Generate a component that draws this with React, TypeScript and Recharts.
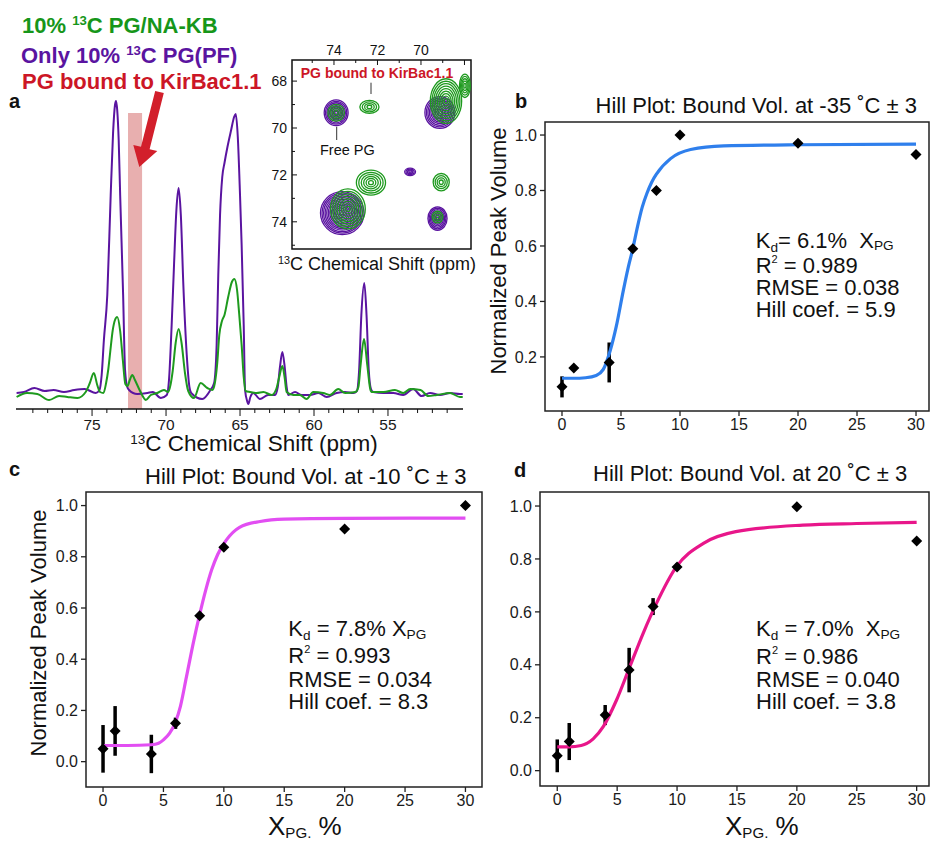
import React from "react";
import { ComposedChart, ScatterChart, Line, Scatter, XAxis, YAxis, ErrorBar, ReferenceArea } from "recharts";

const FONT = "'Liberation Sans', Arial, Helvetica, sans-serif";

// ---------- Panel a: 1D 13C spectra [ppm, intensity] ----------
const purpleSpectrum: [number, number][] = [
  [80.1, 2], [79.6, 3], [78.9, 7], [78.2, 4], [77.6, 5], [76.9, 3], [76.2, 5], [75.5, 6], [74.75, 2], [74.5, 5],
  [74.35, 20], [74.2, 55], [73.97, 100], [73.74, 200], [73.58, 262], [73.45, 290], [73.38, 294], [73.3, 285],
  [73.2, 255], [73.1, 200], [72.9, 100], [72.77, 25], [72.62, 8], [72.5, 5], [71.95, 1], [71.25, 2], [70.9, 3],
  [70.35, -3], [69.95, 0], [69.8, 15], [69.62, 70], [69.46, 130], [69.3, 185], [69.15, 207], [69.0, 180],
  [68.83, 110], [68.6, 40], [68.42, 8], [68.3, 2], [67.55, -4], [67.0, 5], [66.75, 12], [66.58, 50], [66.47, 120],
  [66.35, 180], [66.2, 218], [66.05, 232], [65.85, 248], [65.6, 265], [65.4, 278], [65.29, 281], [65.15, 258],
  [65.0, 200], [64.89, 150], [64.75, 70], [64.66, 5], [64.5, -7], [64.44, -9], [64.3, -2], [64.1, 2], [63.65, -4],
  [63.1, 0], [62.64, 0], [62.45, 8], [62.3, 28], [62.14, 43], [61.98, 28], [61.85, 8], [61.74, 0], [61.28, 3],
  [60.84, 0], [60.27, 0], [59.7, 2], [59.14, -2], [58.47, 2], [57.9, 3], [57.35, 2], [57.1, 4], [56.95, 25],
  [56.8, 80], [56.6, 112], [56.45, 80], [56.3, 25], [56.15, 6], [55.99, 3], [55.3, 2], [54.64, 2], [53.97, 0],
  [53.3, 6], [52.73, -1], [52.16, 2], [51.49, 0], [50.8, 2], [50.14, 1], [49.95, 1],
];
const greenSpectrum: [number, number][] = [
  [80.1, -2], [79.4, 2], [78.7, 1], [77.9, -5], [77.23, -1], [76.67, -2], [75.99, -3], [75.43, 3], [75.15, 12],
  [74.88, 22], [74.65, 10], [74.46, 3], [74.23, 2], [74.05, 12], [73.9, 26], [73.78, 42], [73.6, 65], [73.45, 75],
  [73.3, 78], [73.1, 64], [72.92, 35], [72.75, 11], [72.6, 9], [72.45, 15], [72.28, 20], [72.1, 15], [71.82, 6],
  [71.5, -3], [71.37, -5], [71.03, 0], [70.59, 2], [70.14, 5], [69.86, 3], [69.7, 10], [69.55, 24], [69.35, 52],
  [69.15, 66], [68.95, 52], [68.72, 22], [68.5, 4], [68.11, -3], [67.66, 12], [67.21, 7], [66.87, 5], [66.7, 12],
  [66.55, 30], [66.4, 60], [66.22, 74], [66.05, 80], [65.8, 98], [65.55, 113], [65.38, 116], [65.2, 105],
  [65.05, 80], [64.89, 50], [64.75, 18], [64.62, 4], [64.32, 3], [63.87, 2], [63.42, 3], [62.86, 0], [62.55, 6],
  [62.35, 18], [62.14, 29], [61.98, 17], [61.85, 3], [61.4, 0], [60.95, 0], [60.5, -4], [60.05, 3], [59.38, 2],
  [58.92, 0], [58.36, 6], [57.9, 2], [57.2, 3], [57.0, 8], [56.85, 30], [56.62, 56], [56.4, 30], [56.2, 6],
  [56.1, 3], [55.3, 3], [54.53, 5], [53.97, 2], [53.5, 6], [52.8, 5], [52.28, -1], [51.7, 0], [50.8, 2],
  [50.14, -2], [49.95, -2],
];
const specTicks = [51, 52, 53, 54, 55, 56, 57, 58, 59, 60, 61, 62, 63, 64, 65, 66, 67, 68, 69, 70, 71, 72, 73, 74, 75, 76, 77, 78, 79];
const specTickLabels = [75, 70, 65, 60, 55];
const boundRange = [72.57, 71.62];

// ---------- Inset: 2D contour peaks (ppm centre, ppm half-widths) ----------
const purplePeaks = [
  { x: 73.9, y: 69.35, wx: 0.55, wy: 0.55 },
  { x: 69.13, y: 69.34, wx: 0.69, wy: 0.68 },
  { x: 70.5, y: 71.87, wx: 0.25, wy: 0.16 },
  { x: 73.62, y: 73.63, wx: 1.0, wy: 0.92 },
  { x: 69.24, y: 73.86, wx: 0.44, wy: 0.5 },
];
const greenPeaks = [
  { x: 73.9, y: 69.35, wx: 0.38, wy: 0.36 },
  { x: 72.37, y: 69.1, wx: 0.44, wy: 0.28 },
  { x: 68.85, y: 68.85, wx: 0.72, wy: 0.95 },
  { x: 67.98, y: 68.2, wx: 0.25, wy: 0.5 },
  { x: 72.3, y: 72.33, wx: 0.67, wy: 0.53 },
  { x: 69.07, y: 72.31, wx: 0.37, wy: 0.37 },
  { x: 73.36, y: 73.45, wx: 0.8, wy: 0.85 },
  { x: 69.24, y: 73.8, wx: 0.25, wy: 0.25 },
];
const insetTicks = [68, 69, 70, 71, 72, 73, 74, 75];
const insetTopLabels = [74, 72, 70];
const insetLeftLabels = [68, 70, 72, 74];

// ---------- Hill plots ----------
const hillXTicks = [0, 5, 10, 15, 20, 25, 30];
const hillConc = [0, 1, 4, 6, 8, 10, 20, 30];
const volB = [0.092, 0.16, 0.18, 0.59, 0.8, 1.0, 0.97, 0.93];
const errB = [0.038, 0, 0.072, 0, 0, 0, 0, 0];
const volC = [0.05, 0.12, 0.03, 0.15, 0.57, 0.837, 0.909, 1.0];
const errC = [0.093, 0.097, 0.075, 0.022, 0.01, 0.01, 0, 0];
const volD = [0.056, 0.11, 0.21, 0.38, 0.62, 0.77, 0.997, 0.868];
const errD = [0.062, 0.07, 0.038, 0.084, 0.032, 0.013, 0, 0];

const fitXB = [0, 1, 2, 2.9, 3.5, 4.1, 4.6, 5.2, 5.6, 6.0, 6.4, 6.8, 7.2, 7.6, 8.05, 9.2, 10.9, 13.7, 20, 30];
const fitYB = [0.123, 0.123, 0.125, 0.133, 0.155, 0.225, 0.31, 0.44, 0.52, 0.59, 0.67, 0.74, 0.79, 0.83, 0.862, 0.915, 0.948, 0.961, 0.965, 0.967];
const fitXC = [0, 2, 4, 4.6, 5.0, 5.5, 6.0, 6.4, 6.9, 7.5, 8.0, 8.5, 9.0, 9.5, 10.2, 11.3, 13, 15, 20, 30];
const fitYC = [0.063, 0.063, 0.066, 0.072, 0.085, 0.11, 0.155, 0.215, 0.33, 0.47, 0.575, 0.67, 0.75, 0.81, 0.865, 0.915, 0.938, 0.947, 0.95, 0.951];
const fitXD = [0, 1, 2, 3, 3.84, 4.95, 6.06, 7.17, 8.28, 9.95, 12.2, 14.9, 20.5, 25, 30];
const fitYD = [0.09, 0.09, 0.095, 0.12, 0.166, 0.267, 0.393, 0.519, 0.632, 0.771, 0.859, 0.903, 0.928, 0.934, 0.938];

const toPts = (xs: number[], ys: number[], es?: number[]) => xs.map((x, i) => ({ x, y: ys[i], err: es ? es[i] : 0 }));

// ---------- helpers ----------
const T = ({ x, base, size, color = "#111", weight = 400, anchor = "start", children }: any) => {
  const tr = anchor === "middle" ? "translateX(-50%)" : anchor === "end" ? "translateX(-100%)" : "none";
  return (
    <div style={{ position: "absolute", left: x, top: base - 0.8465 * size, fontSize: size, lineHeight: `${size}px`, height: size, color, fontWeight: weight, whiteSpace: "nowrap", transform: tr, fontFamily: FONT }}>
      {children}
    </div>
  );
};
const Sup = ({ children, s = 0.6, up = 0.55 }: any) => (
  <span style={{ fontSize: `${s}em`, position: "relative", top: `-${up}em`, lineHeight: 0 }}>{children}</span>
);
const Sub = ({ children, s = 0.62, down = 0.3 }: any) => (
  <span style={{ fontSize: `${s}em`, position: "relative", top: `${down}em`, lineHeight: 0 }}>{children}</span>
);
const VLabel = ({ cx, cy, size, children }: any) => (
  <div style={{ position: "absolute", left: cx, top: cy, transform: "translate(-50%,-50%) rotate(-90deg)", fontSize: size, lineHeight: `${size}px`, whiteSpace: "nowrap", color: "#111", fontFamily: FONT }}>{children}</div>
);

const Diamond = (p: any) => {
  const { cx, cy } = p;
  if (cx == null || cy == null) return null;
  const s = 5.5;
  return <path d={`M${cx},${cy - s}L${cx + s},${cy}L${cx},${cy + s}L${cx - s},${cy}Z`} fill="#000" />;
};

// inset geometry
const INSET_W = 230, INSET_H = 225, INSET_YW = 42, INSET_XH = 30, INSET_MR = 9, INSET_MB = 6;
const insetXDom: [number, number] = [67.7, 75.93];
const insetYDom: [number, number] = [67.1, 75.16];
const pxPerPpmX = (INSET_W - INSET_YW - INSET_MR) / (insetXDom[1] - insetXDom[0]);
const pxPerPpmY = (INSET_H - INSET_XH - INSET_MB) / (insetYDom[1] - insetYDom[0]);

const makeContour = (color: string, spacing: number, sw: number) => (p: any) => {
  const { cx, cy, payload } = p;
  if (cx == null || cy == null) return null;
  const rx = payload.wx * pxPerPpmX;
  const ry = payload.wy * pxPerPpmY;
  const n = Math.max(2, Math.ceil(Math.max(rx, ry) / spacing));
  const rings = [];
  for (let i = 0; i < n; i++) {
    const k = 1 - i / n;
    rings.push(<ellipse key={i} cx={cx} cy={cy} rx={rx * k} ry={ry * k} fill="none" stroke={color} strokeWidth={sw} />);
  }
  return <g>{rings}</g>;
};
const PurpleContour = makeContour("#5a14a0", 1.6, 1.3);
const GreenContour = makeContour("#1e9a1e", 2.6, 1.3);

const TopTick = (p: any) => {
  const { x, y, payload } = p;
  const v = payload.value;
  const major = v % 2 === 0;
  return (
    <g>
      <line x1={x} x2={x} y1={y} y2={y + (major ? 5 : 3)} stroke="#111" strokeWidth={1} />
      {insetTopLabels.includes(v) && (
        <text x={x} y={y - 10} textAnchor="middle" dominantBaseline="central" fontSize={14} fill="#111" fontFamily={FONT}>{v}</text>
      )}
    </g>
  );
};
const BottomTick = (p: any) => {
  const { x, y, payload } = p;
  const major = payload.value % 2 === 0;
  return <line x1={x} x2={x} y1={y} y2={y - (major ? 5 : 3)} stroke="#111" strokeWidth={1} />;
};
const LeftTick = (p: any) => {
  const { x, y, payload } = p;
  const v = payload.value;
  const major = v % 2 === 0;
  return (
    <g>
      <line x1={x} x2={x + (major ? 5 : 3)} y1={y} y2={y} stroke="#111" strokeWidth={1} />
      {insetLeftLabels.includes(v) && (
        <text x={x - 5} y={y} textAnchor="end" dominantBaseline="central" fontSize={14} fill="#111" fontFamily={FONT}>{v}</text>
      )}
    </g>
  );
};
const RightTick = (p: any) => {
  const { x, y, payload } = p;
  const major = payload.value % 2 === 0;
  return <line x1={x} x2={x - (major ? 5 : 3)} y1={y} y2={y} stroke="#111" strokeWidth={1} />;
};
const SpecTick = (p: any) => {
  const { x, y, payload } = p;
  const v = payload.value;
  const major = specTickLabels.includes(v);
  return (
    <g>
      <line x1={x} x2={x} y1={y} y2={y + (major ? 7 : 4)} stroke="#111" strokeWidth={1} />
      {major && (
        <text x={x} y={y + 15} textAnchor="middle" dominantBaseline="central" fontSize={15.5} fill="#1a1a1a" fontFamily={FONT}>{v}</text>
      )}
    </g>
  );
};

const tickStyle = { fontSize: 16, fill: "#1a1a1a", fontFamily: FONT };

const HillChart = ({ w, h, plot, xDom, yDom, yTicks, pts, fit, color }: any) => (
  <ComposedChart width={w} height={h} margin={{ top: plot.top, right: w - plot.right, bottom: 0, left: 0 }}>
    <XAxis dataKey="x" type="number" domain={xDom} ticks={hillXTicks} allowDataOverflow height={h - plot.bottom} interval={0}
      tickSize={5} tickMargin={3} axisLine={false} tickLine={{ stroke: "#222", strokeWidth: 1.3 }} tick={tickStyle} />
    <YAxis dataKey="y" type="number" domain={yDom} ticks={yTicks} allowDataOverflow width={plot.left} interval={0}
      tickFormatter={(v: number) => v.toFixed(1)} tickSize={5} tickMargin={3} axisLine={false}
      tickLine={{ stroke: "#222", strokeWidth: 1.3 }} tick={tickStyle} />
    <ReferenceArea x1={xDom[0]} x2={xDom[1]} y1={yDom[0]} y2={yDom[1]} fill="none" stroke="#222" strokeWidth={1.5} ifOverflow="visible" />
    <Scatter data={pts} dataKey="y" shape={Diamond} isAnimationActive={false}>
      <ErrorBar dataKey="err" direction="y" width={0} stroke="#000" strokeWidth={3.5} />
    </Scatter>
    <Line data={fit} dataKey="y" type="monotone" stroke={color} strokeWidth={3.2} dot={false} activeDot={false} isAnimationActive={false} />
  </ComposedChart>
);

export default function App() {
  const purpleData = purpleSpectrum.map(([ppm, v]) => ({ ppm, v }));
  const greenData = greenSpectrum.map(([ppm, v]) => ({ ppm, v }));

  return (
    <div style={{ position: "absolute", left: 0, top: 0, width: 930, height: 843, background: "#fff", overflow: "hidden", fontFamily: FONT }}>
      {/* Panel a spectrum */}
      <div style={{ position: "absolute", left: 0, top: 90 }}>
        <ComposedChart width={480} height={370} margin={{ top: 5, right: 17, left: 16, bottom: 0 }}>
          <XAxis dataKey="ppm" type="number" domain={[49.93, 80.14]} reversed allowDataOverflow ticks={specTicks} interval={0}
            height={51} tickSize={0} tickMargin={0} axisLine={{ stroke: "#111", strokeWidth: 1.5 }} tickLine={false} tick={SpecTick} />
          <YAxis hide type="number" domain={[-14, 300]} allowDataOverflow />
          <Line data={purpleData} dataKey="v" type="monotone" stroke="#5a14a0" strokeWidth={2} dot={false} activeDot={false} isAnimationActive={false} />
          <Line data={greenData} dataKey="v" type="monotone" stroke="#1e9a1e" strokeWidth={2} dot={false} activeDot={false} isAnimationActive={false} />
          <ReferenceArea x1={boundRange[0]} x2={boundRange[1]} y1={-14} y2={282} fill="#d97a7a" fillOpacity={0.6} stroke="none" />
        </ComposedChart>
      </div>

      {/* Inset 2D */}
      <div style={{ position: "absolute", left: 250, top: 30 }}>
        <ScatterChart width={INSET_W} height={INSET_H} margin={{ top: 0, right: INSET_MR, bottom: INSET_MB, left: 0 }}>
          <XAxis xAxisId="t" orientation="top" dataKey="x" type="number" domain={insetXDom} reversed allowDataOverflow ticks={insetTicks} interval={0}
            height={INSET_XH} axisLine={false} tickLine={false} tickSize={0} tickMargin={0} tick={TopTick} />
          <XAxis xAxisId="b" orientation="bottom" dataKey="x" type="number" domain={insetXDom} reversed allowDataOverflow ticks={insetTicks} interval={0}
            height={0} axisLine={false} tickLine={false} tickSize={0} tickMargin={0} tick={BottomTick} />
          <YAxis yAxisId="l" dataKey="y" type="number" domain={insetYDom} reversed allowDataOverflow ticks={insetTicks} interval={0}
            width={INSET_YW} axisLine={false} tickLine={false} tickSize={0} tickMargin={0} tick={LeftTick} />
          <YAxis yAxisId="r" orientation="right" dataKey="y" type="number" domain={insetYDom} reversed allowDataOverflow ticks={insetTicks} interval={0}
            width={0} axisLine={false} tickLine={false} tickSize={0} tickMargin={0} tick={RightTick} />
          <Scatter xAxisId="t" yAxisId="l" data={purplePeaks} shape={PurpleContour} isAnimationActive={false} />
          <Scatter xAxisId="t" yAxisId="l" data={greenPeaks} shape={GreenContour} isAnimationActive={false} />
          <ReferenceArea xAxisId="t" yAxisId="l" x1={insetXDom[0]} x2={insetXDom[1]} y1={insetYDom[0]} y2={insetYDom[1]} fill="none" stroke="#111" strokeWidth={1.5} ifOverflow="visible" />
        </ScatterChart>
      </div>

      {/* Panel b */}
      <div style={{ position: "absolute", left: 490, top: 90 }}>
        <HillChart w={440} h={370} plot={{ left: 55, right: 439, top: 32, bottom: 321 }} xDom={[-1.44, 31.1]} yDom={[0.005, 1.047]}
          yTicks={[0.2, 0.4, 0.6, 0.8, 1.0]} pts={toPts(hillConc, volB, errB)} fit={toPts(fitXB, fitYB)} color="#2f7fec" />
      </div>
      {/* Panel c */}
      <div style={{ position: "absolute", left: 0, top: 460 }}>
        <HillChart w={490} h={383} plot={{ left: 86, right: 482, top: 32, bottom: 327 }} xDom={[-1.41, 31.37]} yDom={[-0.099, 1.053]}
          yTicks={[0, 0.2, 0.4, 0.6, 0.8, 1.0]} pts={toPts(hillConc, volC, errC)} fit={toPts(fitXC, fitYC)} color="#e24ef2" />
      </div>
      {/* Panel d */}
      <div style={{ position: "absolute", left: 490, top: 460 }}>
        <HillChart w={440} h={383} plot={{ left: 50, right: 439, top: 32, bottom: 326 }} xDom={[-1.44, 31.03]} yDom={[-0.058, 1.053]}
          yTicks={[0, 0.2, 0.4, 0.6, 0.8, 1.0]} pts={toPts(hillConc, volD, errD)} fit={toPts(fitXD, fitYD)} color="#e8168a" />
      </div>

      {/* annotations overlay */}
      <svg width={930} height={843} style={{ position: "absolute", left: 0, top: 0, pointerEvents: "none" }}>
        <polygon points="155.2,90.9 141,146.8 133.3,145 139.3,167 157.3,151 149.6,149.2 163.8,93.1" fill="#d21f2b" />
        <line x1={371} x2={371} y1={82.7} y2={94} stroke="#333" strokeWidth={1} />
        <line x1={336.7} x2={336.7} y1={126.7} y2={140} stroke="#333" strokeWidth={1} />
      </svg>

      {/* legend texts panel a */}
      <T x={22} base={33.3} size={22} weight={700} color="#16961a">10% <Sup>13</Sup>C PG/NA-KB</T>
      <T x={21} base={63.3} size={22} weight={700} color="#5a14a0">Only 10% <Sup>13</Sup>C PG(PF)</T>
      <T x={22} base={90} size={22} weight={700} color="#cc1626">PG bound to KirBac1.1</T>
      <T x={9} base={108} size={20} weight={700}>a</T>
      <T x={254} base={452} size={22.5} anchor="middle"><Sup>13</Sup>C Chemical Shift (ppm)</T>

      {/* inset texts */}
      <T x={377} base={78.3} size={14} weight={700} color="#cc1626" anchor="middle">PG bound to KirBac1.1</T>
      <T x={320} base={155} size={14.5}>Free PG</T>
      <T x={377} base={270} size={18} anchor="middle"><Sup>13</Sup>C Chemical Shift (ppm)</T>

      {/* panel b texts */}
      <T x={515} base={108.3} size={20} weight={700}>b</T>
      <T x={917} base={114} size={22} anchor="end">Hill Plot: Bound Vol. at -35 ˚C ± 3</T>
      <VLabel cx={498.5} cy={250.8} size={22}>Normalized Peak Volume</VLabel>
      <T x={755.7} base={248.3} size={22}>K<Sub>d</Sub>= 6.1%&nbsp; Χ<Sub down={0.2}>PG</Sub></T>
      <T x={755.7} base={273.3} size={22}>R<Sup s={0.5} up={0.9}>2</Sup> = 0.989</T>
      <T x={755.7} base={295.7} size={22}>RMSE = 0.038</T>
      <T x={755.7} base={317.7} size={22}>Hill coef. = 5.9</T>

      {/* panel c texts */}
      <T x={9} base={476} size={20} weight={700}>c</T>
      <T x={145} base={485} size={22}>Hill Plot: Bound Vol. at -10 ˚C ± 3</T>
      <VLabel cx={39} cy={633} size={22}>Normalized Peak Volume</VLabel>
      <T x={288.3} base={636.7} size={22}>K<Sub>d</Sub> = 7.8% Χ<Sub down={0.2}>PG</Sub></T>
      <T x={288.3} base={663.3} size={22}>R<Sup s={0.5} up={0.9}>2</Sup> = 0.993</T>
      <T x={288.3} base={687.3} size={22}>RMSE = 0.034</T>
      <T x={288.3} base={709.3} size={22}>Hill coef. = 8.3</T>
      <T x={268} base={835} size={26}>Χ<Sub s={0.58} down={0.2}>PG.</Sub> %</T>

      {/* panel d texts */}
      <T x={514} base={477} size={20} weight={700}>d</T>
      <T x={593} base={481.7} size={22}>Hill Plot: Bound Vol. at 20 ˚C ± 3</T>
      <T x={756} base={636.7} size={22}>K<Sub>d</Sub> = 7.0%&nbsp; Χ<Sub down={0.2}>PG</Sub></T>
      <T x={756} base={665} size={22}>R<Sup s={0.5} up={0.9}>2</Sup> = 0.986</T>
      <T x={756} base={687.3} size={22}>RMSE = 0.040</T>
      <T x={756} base={709.3} size={22}>Hill coef. = 3.8</T>
      <T x={725} base={835} size={26}>Χ<Sub s={0.58} down={0.2}>PG.</Sub> %</T>
    </div>
  );
}
